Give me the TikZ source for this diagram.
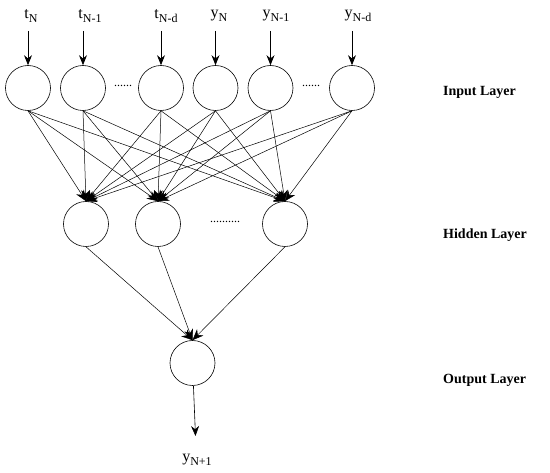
\documentclass[tikz,border=0pt]{standalone}
\usepackage{fontspec}
\setmainfont{Liberation Serif}
\usetikzlibrary{arrows.meta}
\newcommand{\subx}[1]{\raisebox{-0.45ex}{\fontsize{12}{14}\selectfont #1}}
\begin{document}
\begin{tikzpicture}[x=1pt,y=-1pt,
  neuron/.style={draw,circle,minimum size=45pt,inner sep=0pt,line width=0.6pt},
  conn/.style={line width=0.5pt,-{Stealth[length=11pt,width=9pt]}},
  inarrow/.style={line width=0.8pt,-{Stealth[length=10pt,width=8pt]}},
  lbl/.style={font=\fontsize{16}{18}\selectfont,inner sep=0pt},
  layer/.style={font=\fontsize{14}{16}\selectfont\bfseries,anchor=west,inner sep=0pt},
  dots/.style={font=\fontsize{12}{14}\selectfont,inner sep=0pt}]
\useasboundingbox (0,0) rectangle (550,473);
% input layer
\foreach \n/\x in {i1/28,i2/83,i3/161,i4/215.5,i5/270.5,i6/352}
  \node[neuron] (\n) at (\x,88) {};
% labels
\node[lbl] (l1) at (31,16) {t\subx{N}};
\node[lbl] (l2) at (90,16) {t\subx{N-1}};
\node[lbl] (l3) at (166,16) {t\subx{N-d}};
\node[lbl] (l4) at (219,16) {y\subx{N}};
\node[lbl] (l5) at (276,16) {y\subx{N-1}};
\node[lbl] (l6) at (358,16) {y\subx{N-d}};
\foreach \n/\x in {1/28,2/83,3/161,4/215.5,5/270.5,6/352}{
  \coordinate (s\n) at (\x,31);
  \draw[inarrow] (s\n) -- (i\n);
}
\node[dots] (d1) at (123,86) {......};
\node[dots] (d2) at (311,86) {......};
% hidden layer
\foreach \n/\x in {h1/86,h2/158,h3/285}
  \node[neuron] (\n) at (\x,224) {};
\node[dots] (d3) at (225,222) {..........};
% output
\node[neuron] (o) at (192.5,363) {};
\foreach \i in {i1,i2,i3,i4,i5,i6}
  \foreach \h in {h1,h2,h3}
    \draw[conn] (\i.south) -- (\h.north);
\foreach \h in {h1,h2,h3}
  \draw[conn] (\h.south) -- (o.north);
\coordinate (oe) at (195.5,436);
\draw[inarrow,line width=0.6pt] (o) -- (oe);
\node[lbl] (ol) at (197,460) {y\subx{N+1}};
% layer labels
\node[layer] (L1) at (443,92) {Input Layer};
\node[layer] (L2) at (443,235) {Hidden Layer};
\node[layer] (L3) at (443,380) {Output Layer};
\end{tikzpicture}
\end{document}
